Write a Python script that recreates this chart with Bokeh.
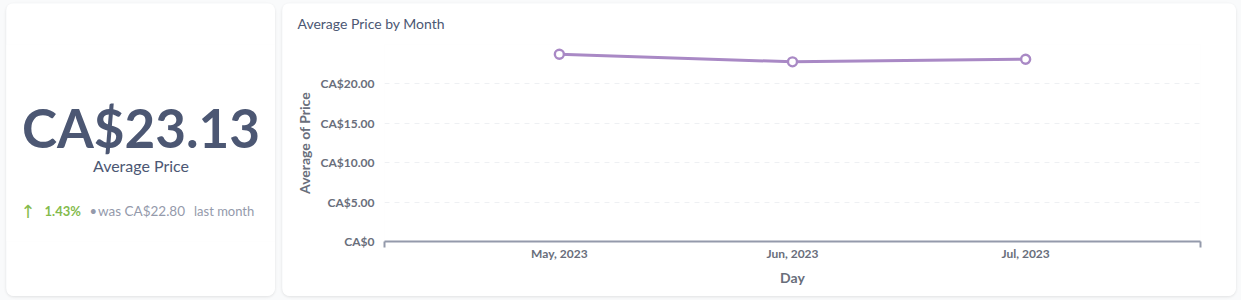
from bokeh.plotting import figure
from bokeh.layouts import row
from bokeh.models import FixedTicker, Range1d, ColumnDataSource
from bokeh.core.properties import value
from bokeh.embed import file_html
from bokeh.resources import INLINE

# ---- data ----
months = ["May, 2023", "Jun, 2023", "Jul, 2023"]
avg_price = [23.76, 22.80, 23.13]
y_ticks = [0, 5, 10, 15, 20]
kpi_value = 23.13
kpi_previous = 22.80
kpi_change_pct = 1.43
kpi_label = "Average Price"
chart_title = "Average Price by Month"
x_axis_title = "Day"
y_axis_title = "Average of Price"

FONT = "Lato"
DARK = "#4c5773"
MEDIUM = "#696e7b"
LIGHT = "#949aab"
GREEN = "#84bb4c"
PURPLE = "#a989c5"
BG = "#f9fafb"

card_styles = {"border-radius": "8px", "overflow": "hidden",
               "box-shadow": "0 1px 3px rgba(0,0,0,0.10)"}

# Frames of plots in a row are aligned; both cards share the chart frame rows.
CARD_TOP, CARD_H = 3, 293
MB_TOP, MB_BOTTOM = 41, 55
FRAME_TOP = CARD_TOP + MB_TOP
FRAME_BOTTOM = CARD_TOP + CARD_H - MB_BOTTOM

# ---- left KPI card ----
LW = 269

def ly(y):  # page y -> local data y (1 unit = 1 px, upward)
    return 296 - y

def lx(x):
    return x - 6

left = figure(width=LW, height=CARD_H, x_range=Range1d(0, LW),
              y_range=Range1d(ly(FRAME_BOTTOM), ly(FRAME_TOP)),
              x_axis_type=None, y_axis_type=None, title=None,
              output_backend="svg", toolbar_location=None,
              min_border_left=0, min_border_right=0,
              min_border_top=MB_TOP, min_border_bottom=MB_BOTTOM,
              outline_line_color=None, border_fill_color="white",
              background_fill_color="white", margin=(3, 0, 4, 6), styles=card_styles)
left.grid.visible = False

def put(x, y, txt, size, color, bold=False, align="left", font=FONT):
    # anchor sits about a third of the font size above the drawn baseline
    px = float(size.replace("px", ""))
    left.text(x=[lx(x)], y=[ly(y - 0.34 * px)], text=[txt], text_font=value(font),
              text_font_size=value(size), text_color=color,
              text_font_style="bold" if bold else "normal",
              text_align=align, text_baseline="alphabetic")

put(140.5, 145, f"CA${kpi_value:.2f}", "53px", DARK, bold=True, align="center")
put(140.5, 170, kpi_label, "16px", DARK, align="center")
put(20, 217, "\u2191", "18px", GREEN, font="DejaVu Sans")
put(44, 215, f"{kpi_change_pct:.2f}%", "13px", GREEN, bold=True)
put(89, 215, "\u2022", "13px", LIGHT)
put(97.5, 215, f"was CA${kpi_previous:.2f}", "13.5px", LIGHT)
put(193.5, 215, "last month", "13px", LIGHT)

# ---- right chart card ----
RW = 954
xs = list(range(len(months)))
src = ColumnDataSource(dict(x=xs, y=avg_price))

p = figure(width=RW, height=CARD_H, x_range=Range1d(-0.75, len(months) - 0.25),
           y_range=Range1d(0, 25), output_backend="svg", toolbar_location=None,
           title=chart_title,
           min_border_left=102, min_border_right=36, min_border_top=MB_TOP,
           min_border_bottom=MB_BOTTOM,
           outline_line_color=None, border_fill_color="white", background_fill_color="white",
           margin=(3, 5, 4, 7), styles=card_styles)

p.title.align = "left"
p.title.offset = -87
p.title.text_font = FONT
p.title.text_font_size = "14px"
p.title.text_font_style = "normal"
p.title.text_color = DARK
p.title.vertical_align = "top"
p.title.standoff = 22

p.line("x", "y", source=src, line_color=PURPLE, line_width=3)
p.scatter("x", "y", source=src, size=9, fill_color="white", line_color=PURPLE, line_width=2.4)

# x axis
p.xaxis.ticker = FixedTicker(ticks=xs, minor_ticks=[-0.75, len(months) - 0.25])
p.xaxis.major_label_overrides = {i: m for i, m in zip(xs, months)}
p.xaxis.axis_line_color = LIGHT
p.xaxis.axis_line_width = 2
p.xaxis.major_tick_line_color = None
p.xaxis.major_tick_out = 0
p.xaxis.major_tick_in = 0
p.xaxis.minor_tick_line_color = LIGHT
p.xaxis.minor_tick_line_width = 2
p.xaxis.minor_tick_out = 6
p.xaxis.minor_tick_in = 0
p.xaxis.major_label_standoff = -2
p.xaxis.major_label_text_font = FONT
p.xaxis.major_label_text_font_style = "bold"
p.xaxis.major_label_text_font_size = "12px"
p.xaxis.major_label_text_color = MEDIUM
p.xaxis.axis_label = x_axis_title
p.xaxis.axis_label_text_font = FONT
p.xaxis.axis_label_text_font_style = "bold"
p.xaxis.axis_label_text_font_size = "14px"
p.xaxis.axis_label_text_color = MEDIUM
p.xaxis.axis_label_standoff = 5

# y axis
p.yaxis.ticker = FixedTicker(ticks=y_ticks)
p.yaxis.major_label_overrides = {t: ("CA$0" if t == 0 else f"CA${t:.2f}") for t in y_ticks}
p.yaxis.axis_line_color = None
p.yaxis.major_tick_line_color = None
p.yaxis.minor_tick_line_color = None
p.yaxis.major_tick_out = 0
p.yaxis.major_tick_in = 0
p.yaxis.major_label_standoff = 10
p.yaxis.major_label_text_font = FONT
p.yaxis.major_label_text_font_style = "bold"
p.yaxis.major_label_text_font_size = "12px"
p.yaxis.major_label_text_color = MEDIUM
p.yaxis.axis_label = y_axis_title
p.yaxis.axis_label_text_font = FONT
p.yaxis.axis_label_text_font_style = "bold"
p.yaxis.axis_label_text_font_size = "14px"
p.yaxis.axis_label_text_color = MEDIUM
p.yaxis.axis_label_standoff = 5

p.xgrid.grid_line_color = None
p.ygrid.grid_line_color = "#eef0f3"
p.ygrid.grid_line_dash = "5 5"
p.ygrid.grid_line_width = 1

layout = row(left, p, styles={"background-color": BG})

with open("out.html", "w") as f:
    f.write(file_html(layout, INLINE))
